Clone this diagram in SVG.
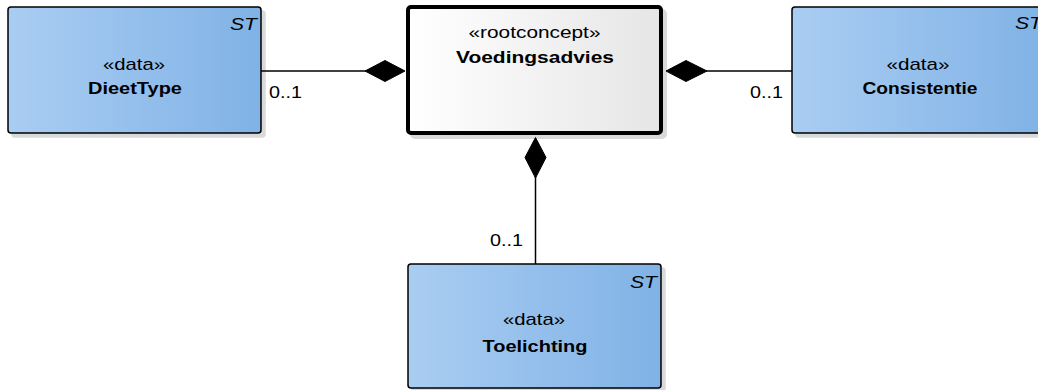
<svg xmlns="http://www.w3.org/2000/svg" width="1038" height="390" viewBox="0 0 1038 390">
<defs>
<linearGradient id="blue" x1="0" y1="0" x2="1" y2="0">
<stop offset="0" stop-color="#AACDF2"/>
<stop offset="1" stop-color="#80B2E6"/>
</linearGradient>
<linearGradient id="white" x1="0" y1="0" x2="1" y2="0">
<stop offset="0" stop-color="#FFFFFF"/>
<stop offset="1" stop-color="#E6E6E6"/>
</linearGradient>
<filter id="sh" x="-5%" y="-5%" width="115%" height="115%">
<feOffset dx="4" dy="4" in="SourceAlpha" result="o"/>
<feFlood flood-color="#000" flood-opacity="0.15"/>
<feComposite in2="o" operator="in" result="s"/>
<feMerge><feMergeNode in="s"/><feMergeNode in="SourceGraphic"/></feMerge>
</filter>
</defs>
<style>
.box{fill:url(#blue);stroke:#000;stroke-width:1.5;filter:url(#sh)}
.root{fill:url(#white);stroke:#000;stroke-width:4;filter:url(#sh)}
text{font-family:"Liberation Sans",Arial,sans-serif;font-size:17px;fill:#000}
.c{text-anchor:middle}
.b{font-weight:bold}
.st{font-style:italic;text-anchor:end}
.line{stroke:#000;stroke-width:1.5;fill:none}
.dia{fill:#000;stroke:#000;stroke-width:1}
</style>
<g id="connectors">
<line class="line" x1="261" y1="71" x2="366" y2="71"/>
<polygon class="dia" points="405,71 385,60.5 365,71 385,81.5"/>
<text x="269" y="98" textLength="33" lengthAdjust="spacingAndGlyphs">0..1</text>
<line class="line" x1="706" y1="71" x2="792" y2="71"/>
<polygon class="dia" points="666,71 686,60.5 707,71 686,81.5"/>
<text x="750" y="98" textLength="33" lengthAdjust="spacingAndGlyphs">0..1</text>
<line class="line" x1="535.5" y1="176" x2="535.5" y2="264"/>
<polygon class="dia" points="535.5,137.5 546,157.5 535.5,178 525,157.5"/>
<text x="490" y="246" textLength="33" lengthAdjust="spacingAndGlyphs">0..1</text>
</g>
<g id="DieetType">
<rect class="box" x="8" y="7" width="253" height="126" rx="3"/>
<text class="st" x="257" y="30" textLength="27" lengthAdjust="spacingAndGlyphs">ST</text>
<text class="c" x="134" y="70" textLength="62" lengthAdjust="spacingAndGlyphs">«data»</text>
<text class="c b" x="135" y="94" textLength="94" lengthAdjust="spacingAndGlyphs">DieetType</text>
</g>
<g id="Voedingsadvies">
<rect class="root" x="408" y="7" width="253" height="126" rx="3"/>
<text class="c" x="534.5" y="38" textLength="132" lengthAdjust="spacingAndGlyphs">«rootconcept»</text>
<text class="c b" x="535" y="63" textLength="158" lengthAdjust="spacingAndGlyphs">Voedingsadvies</text>
</g>
<g id="Consistentie">
<rect class="box" x="792" y="7" width="253" height="126" rx="3"/>
<text x="1015" y="29" font-style="italic" textLength="27" lengthAdjust="spacingAndGlyphs">ST</text>
<text class="c" x="918" y="70" textLength="63" lengthAdjust="spacingAndGlyphs">«data»</text>
<text class="c b" x="920" y="94" textLength="115" lengthAdjust="spacingAndGlyphs">Consistentie</text>
</g>
<g id="Toelichting">
<rect class="box" x="408" y="264" width="253" height="124" rx="3"/>
<text class="st" x="657" y="288" textLength="27" lengthAdjust="spacingAndGlyphs">ST</text>
<text class="c" x="534" y="325" textLength="62" lengthAdjust="spacingAndGlyphs">«data»</text>
<text class="c b" x="535" y="352" textLength="105" lengthAdjust="spacingAndGlyphs">Toelichting</text>
</g>
</svg>
